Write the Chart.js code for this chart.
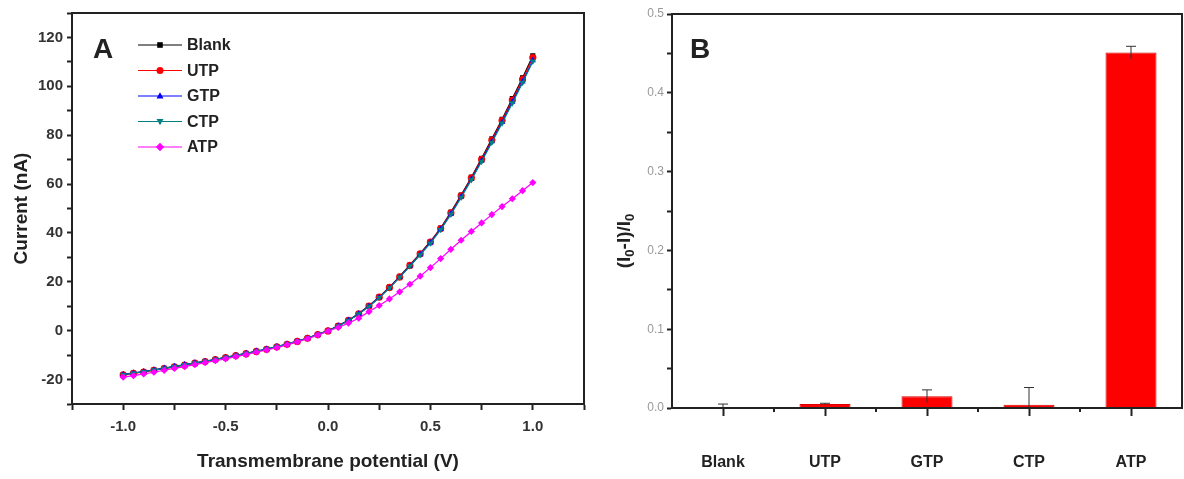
<!DOCTYPE html>
<html>
<head>
<meta charset="utf-8">
<script src="https://cdn.jsdelivr.net/npm/chart.js@4/dist/chart.umd.min.js"></script>
<style>
  body { margin: 0; background: #fff; }
  #wrap { position: relative; width: 1184px; height: 479px; }
  #boxA { position: absolute; left: 0; top: 0; }
  #boxB { position: absolute; left: 600px; top: 0; }
</style>
</head>
<body>
<div id="wrap">
  <canvas id="boxA" width="600" height="479"></canvas>
  <canvas id="boxB" width="584" height="479"></canvas>
</div>
<script>
// ===== DATA (panel A: I-V curves) =====
const voltage = [-1.0, -0.95, -0.9, -0.85, -0.8, -0.75, -0.7, -0.65, -0.6, -0.55, -0.5, -0.45, -0.4, -0.35, -0.3, -0.25, -0.2, -0.15, -0.1, -0.05,
  0.0, 0.05, 0.1, 0.15, 0.2, 0.25, 0.3, 0.35, 0.4, 0.45, 0.5, 0.55, 0.6, 0.65, 0.7, 0.75, 0.8, 0.85, 0.9, 0.95, 1.0];

const blankCurrent = [-18.0, -17.4, -16.8, -16.1, -15.4, -14.7, -14.0, -13.3, -12.6, -11.8, -11.0, -10.2, -9.4, -8.5, -7.6, -6.6, -5.6, -4.4, -3.1, -1.6,
  0.0, 2.0, 4.3, 7.0, 10.2, 13.8, 17.8, 22.2, 26.9, 31.6, 36.5, 42.0, 48.5, 55.5, 62.8, 70.5, 78.5, 86.5, 95.0, 103.5, 112.5];
const utpCurrent = [-18.1, -17.5, -16.9, -16.2, -15.5, -14.8, -14.1, -13.3, -12.6, -11.8, -11.0, -10.2, -9.4, -8.5, -7.6, -6.6, -5.6, -4.4, -3.1, -1.6,
  -0.1, 1.9, 4.2, 6.9, 10.1, 13.7, 17.7, 22.0, 26.7, 31.4, 36.3, 41.8, 48.2, 55.2, 62.5, 70.1, 78.0, 86.0, 94.4, 102.8, 111.8];
const gtpCurrent = [-17.9, -17.3, -16.7, -16.0, -15.3, -14.6, -13.9, -13.2, -12.5, -11.7, -10.9, -10.1, -9.3, -8.4, -7.5, -6.5, -5.5, -4.3, -3.0, -1.5,
  0.0, 2.0, 4.2, 6.9, 10.0, 13.6, 17.5, 21.9, 26.5, 31.2, 36.0, 41.5, 47.8, 54.8, 62.0, 69.6, 77.4, 85.3, 93.6, 101.9, 110.6];
const ctpCurrent = [-18.0, -17.4, -16.8, -16.1, -15.4, -14.7, -14.0, -13.2, -12.5, -11.7, -10.9, -10.1, -9.3, -8.4, -7.5, -6.5, -5.5, -4.3, -3.0, -1.5,
  0.0, 1.9, 4.1, 6.8, 9.9, 13.5, 17.4, 21.8, 26.4, 31.0, 35.8, 41.3, 47.6, 54.5, 61.7, 69.2, 77.0, 84.9, 93.1, 101.5, 110.2];
const atpCurrent = [-19.0, -18.4, -17.7, -17.0, -16.2, -15.4, -14.7, -13.9, -13.1, -12.3, -11.5, -10.6, -9.8, -8.8, -7.9, -6.9, -5.8, -4.6, -3.3, -1.8,
  -0.2, 1.3, 3.1, 5.1, 7.8, 10.3, 13.0, 15.9, 19.0, 22.3, 25.8, 29.5, 33.3, 37.0, 40.6, 44.1, 47.5, 50.8, 54.0, 57.3, 60.6];

// ===== DATA (panel B: relative change) =====
const samples = ["Blank", "UTP", "GTP", "CTP", "ATP"];
const ratio = [0.0, 0.005, 0.015, 0.004, 0.451];
const ratioErr = [0.005, 0.001, 0.008, 0.022, 0.008];

const FONT = "'Liberation Sans', Arial, sans-serif";
const INK = "#222";

// ===== SHARED PLUGINS =====
const frameBox = {
  id: "frameBox",
  afterDraw(chart) {
    const a = chart.chartArea;
    const ctx = chart.ctx;
    ctx.save();
    ctx.strokeStyle = INK;
    ctx.lineWidth = 2;
    ctx.strokeRect(a.left, a.top, a.right - a.left, a.bottom - a.top);
    ctx.restore();
  }
};

// x, y are in the canvas' own coords
function panelLetter(letter, x, y) {
  return {
    id: "panelLetter",
    afterDraw(chart) {
      const ctx = chart.ctx;
      ctx.save();
      ctx.font = "bold 28px " + FONT;
      ctx.fillStyle = INK;
      ctx.textBaseline = "middle";
      ctx.fillText(letter, x, y);
      ctx.restore();
    }
  };
}

function drawMarker(ctx, shape, x, y, r) {
  ctx.beginPath();
  if (shape === "rect") {
    ctx.rect(x - r * 0.8, y - r * 0.8, r * 1.6, r * 1.6);
  } else if (shape === "triangle") {
    ctx.moveTo(x, y - r * 1.1); ctx.lineTo(x + r, y + r * 0.7); ctx.lineTo(x - r, y + r * 0.7);
  } else if (shape === "triangleDown") {
    ctx.moveTo(x, y + r * 1.1); ctx.lineTo(x + r, y - r * 0.7); ctx.lineTo(x - r, y - r * 0.7);
  } else if (shape === "rectRot") {
    ctx.moveTo(x, y - r * 1.2); ctx.lineTo(x + r * 1.2, y); ctx.lineTo(x, y + r * 1.2); ctx.lineTo(x - r * 1.2, y);
  } else {
    ctx.arc(x, y, r, 0, Math.PI * 2);
  }
  ctx.closePath();
  ctx.fill();
}

// legend with line + marker like Origin
const lineLegend = {
  id: "lineLegend",
  afterDraw(chart) {
    const ctx = chart.ctx;
    ctx.save();
    chart.data.datasets.forEach((ds, i) => {
      const y = 45 + i * 25.5;
      ctx.strokeStyle = ds.borderColor;
      ctx.lineWidth = 1.2;
      ctx.beginPath();
      ctx.moveTo(138, y);
      ctx.lineTo(182, y);
      ctx.stroke();
      ctx.fillStyle = ds.borderColor;
      drawMarker(ctx, ds.legendShape, 160, y, 3.5);
      ctx.fillStyle = INK;
      ctx.font = "bold 16px " + FONT;
      ctx.textBaseline = "middle";
      ctx.fillText(ds.label, 187, y + 1);
    });
    ctx.restore();
  }
};

// ===== PANEL A =====
function series(label, values, color, shape, rot, order) {
  return {
    label: label,
    data: voltage.map((v, i) => ({ x: v, y: values[i] })),
    borderColor: color,
    backgroundColor: color,
    borderWidth: 1.2,
    pointStyle: shape === "triangleDown" ? "triangle" : shape,
    pointRotation: rot,
    pointRadius: 3.6,
    pointBorderWidth: 0,
    legendShape: shape,
    order: order
  };
}

new Chart(document.getElementById("boxA"), {
  type: "line",
  data: {
    datasets: [
      series("Blank", blankCurrent, "#000000", "rect", 0, 4),
      series("UTP", utpCurrent, "#ff0000", "circle", 0, 3),
      series("GTP", gtpCurrent, "#0000ff", "triangle", 0, 2),
      series("CTP", ctpCurrent, "#008080", "triangleDown", 180, 1),
      series("ATP", atpCurrent, "#ff00ff", "rectRot", 0, 0)
    ]
  },
  options: {
    responsive: false,
    animation: false,
    layout: { padding: { top: 12, right: 16, left: 0, bottom: 0 } },
    plugins: { legend: { display: false }, tooltip: { enabled: false } },
    scales: {
      x: {
        type: "linear",
        min: -1.25,
        max: 1.25,
        afterFit: s => { s.height = 75; },
        border: { color: INK, width: 2 },
        grid: { drawOnChartArea: false, tickLength: 6, tickColor: INK, tickWidth: 2 },
        ticks: {
          stepSize: 0.25,
          autoSkip: false,
          maxRotation: 0,
          padding: 8,
          color: "#333",
          font: { family: FONT, size: 15, weight: "bold" },
          callback: v => (Math.abs(v * 2 - Math.round(v * 2)) < 1e-9 ? v.toFixed(1) : "")
        },
        title: {
          display: true,
          text: "Transmembrane potential (V)",
          color: INK,
          font: { family: FONT, size: 19, weight: "bold" },
          padding: { top: 0, bottom: 6 }
        }
      },
      y: {
        min: -30,
        max: 130,
        afterFit: s => { s.width = 72; },
        border: { color: INK, width: 2 },
        grid: { drawOnChartArea: false, tickLength: 5, tickColor: INK, tickWidth: 2 },
        ticks: {
          stepSize: 10,
          autoSkip: false,
          padding: 4,
          color: "#333",
          font: { family: FONT, size: 15, weight: "bold" },
          callback: v => (v % 20 === 0 ? v : "")
        },
        title: {
          display: true,
          text: "Current (nA)",
          color: INK,
          font: { family: FONT, size: 19, weight: "bold" },
          padding: { top: 10, bottom: 0 }
        }
      }
    }
  },
  plugins: [frameBox, lineLegend, panelLetter("A", 93, 50)]
});

// ===== PANEL B =====
const errorBars = {
  id: "errorBars",
  afterDatasetsDraw(chart) {
    const xs = chart.scales.x;
    const ys = chart.scales.y;
    const ctx = chart.ctx;
    ctx.save();
    ctx.strokeStyle = "#333";
    ctx.lineWidth = 1;
    ratio.forEach((v, i) => {
      const x = xs.getPixelForValue(i);
      const top = ys.getPixelForValue(v + ratioErr[i]);
      const bot = ys.getPixelForValue(Math.max(v - ratioErr[i], 0));
      ctx.beginPath();
      ctx.moveTo(x, top); ctx.lineTo(x, bot);
      ctx.moveTo(x - 5, top); ctx.lineTo(x + 5, top);
      ctx.stroke();
    });
    ctx.restore();
  }
};

// small ticks between the categories
const minorTicksB = {
  id: "minorTicksB",
  afterDraw(chart) {
    const xs = chart.scales.x;
    const ctx = chart.ctx;
    const y0 = chart.chartArea.bottom;
    ctx.save();
    ctx.strokeStyle = INK;
    ctx.lineWidth = 2;
    for (let i = 0; i < samples.length - 1; i++) {
      const x = xs.getPixelForValue(i + 0.5);
      ctx.beginPath();
      ctx.moveTo(x, y0);
      ctx.lineTo(x, y0 + 4);
      ctx.stroke();
    }
    ctx.restore();
  }
};

// y title with real subscripts: (I0-I)/I0
const subTitleB = {
  id: "subTitleB",
  afterDraw(chart) {
    const ctx = chart.ctx;
    const a = chart.chartArea;
    const parts = [["(I", false], ["0", true], ["-I)/I", false], ["0", true]];
    const big = "bold 19px " + FONT;
    const small = "bold 13px " + FONT;
    ctx.save();
    let total = 0;
    parts.forEach(p => { ctx.font = p[1] ? small : big; total += ctx.measureText(p[0]).width; });
    ctx.translate(25, (a.top + a.bottom) / 2 + 30);
    ctx.rotate(-Math.PI / 2);
    ctx.fillStyle = INK;
    ctx.textBaseline = "middle";
    let x = -total / 2;
    parts.forEach(p => {
      ctx.font = p[1] ? small : big;
      ctx.fillText(p[0], x, p[1] ? 5 : 0);
      x += ctx.measureText(p[0]).width;
    });
    ctx.restore();
  }
};

new Chart(document.getElementById("boxB"), {
  type: "bar",
  data: {
    labels: samples,
    datasets: [{
      data: ratio,
      backgroundColor: "#ff0000",
      borderColor: "#d80000",
      borderWidth: 1,
      barPercentage: 0.5,
      categoryPercentage: 1.0
    }]
  },
  options: {
    responsive: false,
    animation: false,
    layout: { padding: { top: 14, right: 2, left: 0, bottom: 0 } },
    plugins: { legend: { display: false }, tooltip: { enabled: false } },
    scales: {
      x: {
        offset: true,
        afterFit: s => { s.height = 71; },
        border: { color: INK, width: 2 },
        grid: { offset: false, drawOnChartArea: false, tickLength: 8, tickColor: INK, tickWidth: 2 },
        ticks: {
          padding: 37,
          color: INK,
          font: { family: FONT, size: 16, weight: "bold" }
        }
      },
      y: {
        min: 0,
        max: 0.5,
        afterFit: s => { s.width = 72; },
        border: { color: INK, width: 2 },
        grid: { drawOnChartArea: false, tickLength: 5, tickColor: INK, tickWidth: 2 },
        ticks: {
          stepSize: 0.05,
          autoSkip: false,
          padding: 3,
          color: "#999",
          font: { family: FONT, size: 12 },
          callback: v => (Math.round(v * 100) % 10 === 0 ? v.toFixed(1) : "")
        }
      }
    }
  },
  plugins: [frameBox, errorBars, minorTicksB, subTitleB, panelLetter("B", 90, 50)]
});
</script>
</body>
</html>
